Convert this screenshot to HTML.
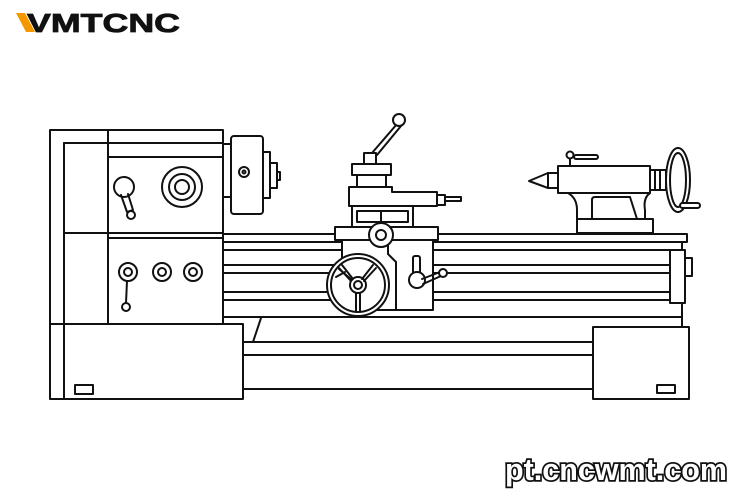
<!DOCTYPE html>
<html><head><meta charset="utf-8"><style>html,body{margin:0;padding:0;background:#fff}svg{display:block}</style></head>
<body>
<svg width="750" height="500" viewBox="0 0 750 500" xmlns="http://www.w3.org/2000/svg">
<rect width="750" height="500" fill="#fff"/>
<!-- logo -->
<polygon points="16,13 25,13 35,32 26,32" fill="#f39800"/>
<text x="27" y="32" font-family="Liberation Sans, sans-serif" font-weight="bold" font-size="26" textLength="153" lengthAdjust="spacingAndGlyphs" fill="#111" stroke="#111" stroke-width="0.8">VMTCNC</text>

<g fill="none" stroke="#111" stroke-width="2" stroke-linejoin="round" stroke-linecap="round">
<!-- bed -->
<rect x="223" y="234" width="464" height="8" fill="#fff"/>
<line x1="223" y1="250" x2="670" y2="250"/>
<line x1="223" y1="265" x2="670" y2="265"/>
<line x1="223" y1="273" x2="670" y2="273"/>
<line x1="223" y1="292" x2="670" y2="292"/>
<line x1="223" y1="300" x2="670" y2="300"/>
<line x1="223" y1="317" x2="682" y2="317"/>
<line x1="682" y1="242" x2="682" y2="327"/>
<rect x="670" y="250" width="15" height="53" fill="#fff"/>
<rect x="685" y="258" width="7" height="18" fill="#fff"/>
<line x1="243" y1="342" x2="593" y2="342"/>
<line x1="243" y1="355" x2="593" y2="355"/>
<line x1="243" y1="389" x2="593" y2="389"/>
<line x1="261" y1="318" x2="253" y2="342"/>
<!-- right base -->
<rect x="593" y="327" width="96" height="72" fill="#fff"/>
<rect x="657" y="385" width="18" height="8"/>

<!-- headstock -->
<rect x="50" y="130" width="173" height="194" fill="#fff"/>
<line x1="64" y1="143" x2="64" y2="399"/>
<line x1="64" y1="143" x2="223" y2="143"/>
<line x1="108" y1="130" x2="108" y2="324"/>
<line x1="108" y1="157" x2="223" y2="157"/>
<line x1="64" y1="233" x2="223" y2="233"/>
<line x1="108" y1="238" x2="223" y2="238"/>
<rect x="50" y="324" width="193" height="75" fill="#fff"/>
<line x1="64" y1="324" x2="64" y2="399"/>
<rect x="75" y="385" width="18" height="9"/>
<circle cx="124" cy="187" r="10"/>
<path d="M121,195 L127,212 L133,210 L128,194"/>
<circle cx="131" cy="215" r="4" fill="#fff"/>
<circle cx="182" cy="187" r="20"/><circle cx="182" cy="187" r="13"/><circle cx="182" cy="187" r="7"/>
<circle cx="128" cy="272" r="9"/><circle cx="128" cy="272" r="4"/>
<circle cx="162" cy="272" r="9"/><circle cx="162" cy="272" r="4"/>
<circle cx="193" cy="272" r="9"/><circle cx="193" cy="272" r="4"/>
<line x1="127" y1="281" x2="126" y2="303"/>
<circle cx="126" cy="307" r="4" fill="#fff"/>
<!-- chuck -->
<rect x="223" y="144" width="8" height="53"/>
<rect x="231" y="136" width="32" height="78" rx="3" fill="#fff"/>
<circle cx="244" cy="172" r="5"/><circle cx="244" cy="172" r="1.5"/>
<rect x="263" y="152" width="7" height="46"/>
<rect x="270" y="163" width="7" height="25"/>
<rect x="277" y="172" width="3" height="8"/>

<!-- carriage -->
<line x1="372" y1="153" x2="397" y2="124"/>
<line x1="377" y1="155" x2="401" y2="126"/>
<circle cx="399" cy="120" r="6" fill="#fff"/>
<rect x="364" y="153" width="12" height="11" fill="#fff"/>
<rect x="352" y="164" width="39" height="11" fill="#fff"/>
<rect x="357" y="175" width="29" height="12" fill="#fff"/>
<path d="M349,187 L392,187 L392,192 L437,192 L437,206 L349,206 Z" fill="#fff"/>
<rect x="437" y="195" width="8" height="10"/>
<path d="M445,197 L461,197 L461,201 L445,201"/>
<rect x="352" y="206" width="61" height="21"/>
<rect x="357" y="211" width="51" height="11"/>
<line x1="381" y1="211" x2="381" y2="222"/>
<rect x="342" y="240" width="91" height="70" fill="#fff"/>
<rect x="335" y="227" width="103" height="13" fill="#fff"/>
<path d="M388,244 L388,254 L396,262 L396,310"/>
<circle cx="381" cy="235" r="12" fill="#fff"/><circle cx="381" cy="235" r="5"/>
<circle cx="358" cy="285" r="31" fill="#fff"/><circle cx="358" cy="285" r="27"/>
<circle cx="358" cy="285" r="8"/><circle cx="358" cy="285" r="4"/>
<path d="M352,280 L339,269 M345,272 L336,277"/>
<path d="M351,281 L339,268 M353,279 L342,265"/>
<path d="M364,281 L376,268 M362,279 L373,265"/>
<path d="M356,293 L356,311 M360,293 L360,311"/>
<rect x="413" y="256" width="7" height="19" rx="2"/>
<circle cx="417" cy="280" r="8" fill="#fff"/>
<line x1="422" y1="279" x2="440" y2="272"/><line x1="423" y1="284" x2="441" y2="276"/>
<circle cx="443" cy="273" r="4" fill="#fff"/>

<!-- tailstock -->
<rect x="577" y="219" width="76" height="14" fill="#fff"/>
<path d="M568,193 Q577,198 577,210 L577,219 M650,193 Q643,198 645,210 L645,219"/>
<path d="M592,219 L592,200 Q592,197 595,197 L630,197 L637,219"/>
<rect x="558" y="166" width="92" height="27" fill="#fff"/>
<path d="M558,173 L548,173 L529,181 L548,188 L558,188"/>
<line x1="548" y1="173" x2="548" y2="188"/>
<line x1="570" y1="166" x2="570" y2="158"/>
<circle cx="570" cy="155" r="3.5" fill="#fff"/>
<rect x="574" y="155" width="24" height="4" rx="2"/>
<rect x="650" y="170" width="16" height="20"/>
<line x1="655" y1="170" x2="655" y2="190"/><line x1="660" y1="170" x2="660" y2="190"/>
<ellipse cx="678" cy="180" rx="12" ry="32" fill="#fff"/>
<ellipse cx="678" cy="180" rx="8" ry="27"/>
<rect x="680" y="203" width="20" height="5" rx="2.5" fill="#fff"/>
</g>

<text x="505" y="480" font-family="Liberation Sans, sans-serif" font-weight="bold" font-size="31" textLength="222" lengthAdjust="spacingAndGlyphs" fill="#fff" stroke="#111" stroke-width="3.5" paint-order="stroke">pt.cncwmt.com</text>
</svg>
</body></html>
